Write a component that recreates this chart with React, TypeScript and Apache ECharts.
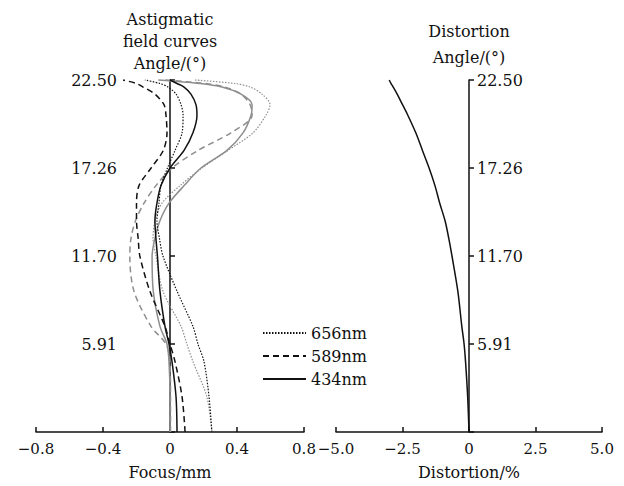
import React, { useEffect, useRef } from 'react';
import * as echarts from 'echarts';

// Relative field height (fraction of full field 22.50°)
const FIELD = [0, 0.1, 0.2, 0.25, 0.3, 0.4, 0.5, 0.55, 0.6, 0.65, 0.7, 0.75, 0.8, 0.85, 0.9, 0.93, 0.96, 0.98, 0.99, 1.0];
const ANGLE_TICKS = ['', '5.91', '11.70', '17.26', '22.50'];
const LEGEND_NAMES = ['656nm', '589nm', '434nm'];

// Sagittal (black) curves, focus in mm
const S656 = [0.25, 0.233, 0.203, 0.167, 0.137, 0.042, -0.042, -0.063, -0.078, -0.066, -0.054, -0.015, 0.03, 0.072, 0.078, 0.066, 0.036, -0.012, -0.06, -0.15];
const S589 = [0.09, 0.072, 0.03, 0.0, -0.03, -0.12, -0.18, -0.19, -0.2, -0.2, -0.185, -0.113, -0.04, -0.018, -0.024, -0.036, -0.09, -0.16, -0.2, -0.28];
const S434 = [0.042, 0.036, 0.012, -0.006, -0.03, -0.06, -0.075, -0.084, -0.09, -0.078, -0.054, 0.0, 0.084, 0.137, 0.161, 0.155, 0.125, 0.084, 0.042, 0.0];
// Tangential (gray) curves, focus in mm
const T656 = [0.25, 0.22, 0.137, 0.101, 0.066, -0.042, -0.084, -0.101, -0.09, -0.048, 0.06, 0.191, 0.346, 0.496, 0.573, 0.597, 0.549, 0.478, 0.388, 0.149];
const T589 = [0.003, 0.003, 0.0, -0.024, -0.113, -0.215, -0.24, -0.233, -0.206, -0.155, -0.084, 0.012, 0.167, 0.364, 0.49, 0.478, 0.424, 0.328, 0.209, -0.03];
const T434 = [0.0, 0.0, -0.006, -0.018, -0.06, -0.1, -0.107, -0.09, -0.06, -0.006, 0.084, 0.185, 0.34, 0.436, 0.484, 0.49, 0.424, 0.31, 0.18, -0.07];
// Distortion in %
const DIST = [0, -0.05, -0.13, -0.185, -0.27, -0.42, -0.64, -0.76, -0.9, -1.1, -1.28, -1.5, -1.75, -2.0, -2.3, -2.5, -2.7, -2.85, -2.93, -3.0];

const FONT = 'DejaVu Serif';
const BLACK = '#111111';
const GRAY = '#8e8e8e';

export default function App() {
  const ref = useRef<HTMLDivElement>(null);
  useEffect(() => {
    document.body.style.margin = '0';
    const chart = echarts.init(ref.current!, null, { renderer: 'svg' });
    const pts = (vals: number[]) => vals.map((v, i) => [v, FIELD[i]]);
    const fmtX = (v: number) => (v === 0 ? '0' : v.toFixed(1).replace('-', '\u2212'));
    const mk = (name: string, data: number[], color: string, type: any, width: number, idx: number) => ({
      type: 'line',
      name,
      xAxisIndex: idx,
      yAxisIndex: idx,
      data: pts(data),
      showSymbol: false,
      symbol: 'none',
      smooth: 0.3,
      clip: false,
      silent: true,
      lineStyle: { color, type, width },
      itemStyle: { color },
    });
    const lineStyle = { color: BLACK, width: 1.5 };
    const txt = { fontFamily: FONT, fontSize: 16, color: BLACK };
    const xAxisBase = (min: number, max: number, interval: number, idx: number, name: string) => ({
      type: 'value',
      gridIndex: idx,
      min,
      max,
      interval,
      name,
      nameLocation: 'middle',
      nameGap: 32,
      nameTextStyle: { ...txt },
      axisLine: { onZero: false, lineStyle },
      axisTick: { inside: true, length: 5, lineStyle },
      axisLabel: { ...txt, fontSize: 15, margin: 9, formatter: fmtX },
      splitLine: { show: false },
    });
    const yAxisBase = (
      idx: number,
      position: string,
      offset: number,
      name: string,
      margin: number,
      inside: boolean,
      nameGap: number,
      lineHeight: number
    ) => ({
      type: 'value',
      gridIndex: idx,
      position,
      offset,
      min: 0,
      max: 1,
      interval: 0.25,
      name,
      nameLocation: 'end',
      nameGap,
      nameTextStyle: { ...txt, align: 'center', verticalAlign: 'bottom', lineHeight },
      axisLine: { onZero: false, lineStyle },
      axisTick: { inside, length: 5, lineStyle },
      axisLabel: { ...txt, margin, formatter: (v: number) => ANGLE_TICKS[Math.round(v / 0.25)] },
      splitLine: { show: false },
    });
    chart.setOption({
      animation: false,
      backgroundColor: '#ffffff',
      grid: [
        { left: 36, top: 80, width: 268, height: 352, containLabel: false, outerBoundsMode: 'none' },
        { left: 336, top: 80, width: 266, height: 352, containLabel: false, outerBoundsMode: 'none' },
      ],
      xAxis: [
        xAxisBase(-0.8, 0.8, 0.4, 0, 'Focus/mm'),
        xAxisBase(-5, 5, 2.5, 1, 'Distortion/%'),
      ],
      yAxis: [
        // axis drawn at focus = 0, i.e. 134 px inside the grid's left edge
        yAxisBase(0, 'left', -134, 'Astigmatic\nfield curves\nAngle/(\u00b0)', 53, true, 6, 22),
        // axis drawn at distortion = 0, 133 px inside the grid's right edge
        yAxisBase(1, 'right', -133, 'Distortion\nAngle/(\u00b0)', 8, false, 10, 26),
      ],
      legend: {
        data: LEGEND_NAMES,
        orient: 'vertical',
        left: 262,
        top: 325,
        padding: 0,
        itemWidth: 43,
        itemHeight: 14,
        itemGap: 7,
        itemStyle: { opacity: 0, color: 'rgba(0,0,0,0)', borderWidth: 0 },
        textStyle: { ...txt },
        selectedMode: false,
      },
      series: [
        mk('656nm T', T656, GRAY, [1.5, 1.5], 1.2, 0),
        mk('589nm T', T589, GRAY, [6, 4], 1.5, 0),
        mk('434nm T', T434, GRAY, 'solid', 1.5, 0),
        mk('656nm', S656, BLACK, [1.5, 1.5], 1.2, 0),
        mk('589nm', S589, BLACK, [6, 4], 1.5, 0),
        mk('434nm', S434, BLACK, 'solid', 1.5, 0),
        mk('Distortion', DIST, BLACK, 'solid', 1.5, 1),
      ],
    });
    return () => chart.dispose();
  }, []);
  return <div ref={ref} style={{ width: 624, height: 486 }} />;
}
